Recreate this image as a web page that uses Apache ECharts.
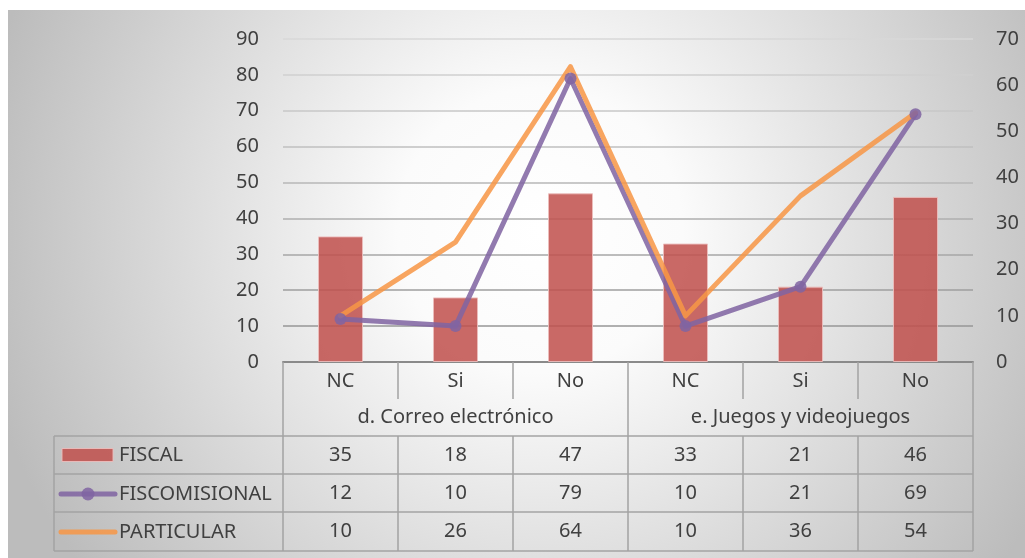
<!DOCTYPE html>
<html>
<head>
<meta charset="utf-8">
<title>Correo electrónico y videojuegos por tipo de institución</title>
<script src="https://cdn.jsdelivr.net/npm/echarts@6/dist/echarts.min.js"></script>
<style>
  html, body { margin: 0; padding: 0; background: #ffffff; }
  #chart { width: 1025px; height: 558px; }
</style>
</head>
<body>
<div id="chart"></div>
<script>
// Answer categories, grouped by question
const categories = ['NC', 'Si', 'No', 'NC', 'Si', 'No'];
const groups = ['d. Correo electrónico', 'e. Juegos y videojuegos'];
const seriesNames = ['FISCAL', 'FISCOMISIONAL', 'PARTICULAR'];

// Values per institution type
const fiscal = [35, 18, 47, 33, 21, 46];
const fiscomisional = [12, 10, 79, 10, 21, 69];
const particular = [10, 26, 64, 10, 36, 54];

// Axis ranges
const leftAxis = { min: 0, max: 90, interval: 10 };
const rightAxis = { min: 0, max: 70, interval: 10 };

const FONT = '"Noto Sans", "Open Sans", sans-serif';
const FONT_SIZE = 20;
const TEXT = '#404040';
const TABLE_LINE = '#a3a3a3';

const RED = 'rgba(192, 80, 77, 0.86)';
const RED_EDGE = 'rgba(236, 190, 188, 0.9)';
const PURPLE = 'rgba(128, 100, 162, 0.86)';
const ORANGE = 'rgba(247, 150, 70, 0.86)';

// Plot geometry
const PLOT = { left: 283, right: 973, top: 39, bottom: 362 };

const chart = echarts.init(document.getElementById('chart'), null, { renderer: 'canvas' });

// A category axis used as one row of the data table under the plot
function tableRow(data, offset, tickLen, margin) {
  return {
    type: 'category',
    position: 'bottom',
    gridIndex: 0,
    offset: offset,
    data: data,
    boundaryGap: true,
    axisLine: { show: false },
    axisTick: { show: true, interval: 0, length: tickLen, lineStyle: { color: TABLE_LINE, width: 1.5 } },
    axisLabel: {
      show: true, margin: margin, interval: 0, verticalAlign: 'middle',
      color: TEXT, fontFamily: FONT, fontSize: FONT_SIZE, lineHeight: 22
    },
    splitLine: { show: false }
  };
}

function tableLine(x1, y1, x2, y2) {
  return { type: 'line', silent: true, shape: { x1: x1, y1: y1, x2: x2, y2: y2 }, style: { stroke: TABLE_LINE, lineWidth: 1.5 } };
}

// Vertical borders of the question row: plot edges and the split between questions
const groupBorders = [];
for (let k = 0; k <= groups.length; k++) {
  const x = PLOT.left + k * (PLOT.right - PLOT.left) / groups.length;
  groupBorders.push(tableLine(x, 399, x, 436));
}

// Legend keys in the first column of the data table
const legendRows = [455, 494, 532];
const legendGraphics = [
  { type: 'rect', silent: true, shape: { x: 62, y: legendRows[0] - 6.5, width: 51, height: 13 },
    style: { fill: RED, stroke: RED_EDGE, lineWidth: 1 } },
  { type: 'line', silent: true, shape: { x1: 61, y1: legendRows[1], x2: 115, y2: legendRows[1] },
    style: { stroke: PURPLE, lineWidth: 5, lineCap: 'round' } },
  { type: 'circle', silent: true, shape: { cx: 88, cy: legendRows[1], r: 6.5 },
    style: { fill: PURPLE } },
  { type: 'line', silent: true, shape: { x1: 61, y1: legendRows[2], x2: 115, y2: legendRows[2] },
    style: { stroke: ORANGE, lineWidth: 5, lineCap: 'round' } }
].concat(seriesNames.map(function (name, i) {
  return {
    type: 'text', silent: true, x: 119, y: legendRows[i],
    style: { text: name, fill: TEXT, font: FONT_SIZE + 'px ' + FONT, verticalAlign: 'middle', align: 'left' }
  };
}));

const gridLineColor = {
  type: 'linear', global: true, x: 0, y: PLOT.top, x2: 0, y2: PLOT.bottom,
  colorStops: [{ offset: 0, color: '#d8d8d8' }, { offset: 1, color: '#8e8e8e' }]
};

const option = {
  animation: false,
  textStyle: { fontFamily: FONT },
  grid: { left: PLOT.left, right: 1025 - PLOT.right, top: PLOT.top, bottom: 558 - PLOT.bottom, containLabel: false },
  graphic: [
    {
      type: 'rect', z: -10, silent: true,
      shape: { x: 8, y: 10, width: 1017, height: 548 },
      style: {
        fill: {
          type: 'radial', global: true, x: 540, y: 230, r: 570,
          colorStops: [
            { offset: 0, color: '#ffffff' },
            { offset: 0.25, color: '#fbfbfb' },
            { offset: 1, color: '#bcbcbc' }
          ]
        }
      }
    },
    // Borders of the value rows and the legend column
    tableLine(54, 436, PLOT.right, 436),
    tableLine(54, 474, PLOT.right, 474),
    tableLine(54, 512, PLOT.right, 512),
    tableLine(54, 551, PLOT.right, 551),
    tableLine(54, 436, 54, 551)
  ].concat(groupBorders, legendGraphics),
  xAxis: [
    // Answer labels row, also the plot's category axis
    {
      type: 'category',
      position: 'bottom',
      data: categories,
      boundaryGap: true,
      axisLine: { show: true, lineStyle: { color: '#8a8a8a', width: 2 } },
      axisTick: { show: true, interval: 0, length: 37, lineStyle: { color: TABLE_LINE, width: 1.5 } },
      axisLabel: {
        margin: 19, interval: 0, verticalAlign: 'middle',
        color: TEXT, fontFamily: FONT, fontSize: FONT_SIZE, lineHeight: 22
      },
      splitLine: { show: false }
    },
    tableRow(groups, 37, 37, 18),
    tableRow(fiscal.map(String), 74, 38, 19),
    tableRow(fiscomisional.map(String), 112, 38, 19),
    tableRow(particular.map(String), 150, 39, 19)
  ],
  yAxis: [
    {
      type: 'value', position: 'left',
      min: leftAxis.min, max: leftAxis.max, interval: leftAxis.interval,
      axisLine: { show: false }, axisTick: { show: false },
      axisLabel: { margin: 24, color: TEXT, fontFamily: FONT, fontSize: FONT_SIZE },
      splitLine: { show: true, lineStyle: { color: gridLineColor, width: 1.5 } }
    },
    {
      type: 'value', position: 'right',
      min: rightAxis.min, max: rightAxis.max, interval: rightAxis.interval,
      axisLine: { show: false }, axisTick: { show: false },
      axisLabel: { margin: 23, color: TEXT, fontFamily: FONT, fontSize: FONT_SIZE },
      splitLine: { show: false }
    }
  ],
  series: [
    {
      name: seriesNames[0],
      type: 'bar',
      xAxisIndex: 0, yAxisIndex: 0,
      data: fiscal,
      barWidth: 45,
      itemStyle: { color: RED, borderColor: RED_EDGE, borderWidth: 1 }
    },
    {
      name: seriesNames[1],
      type: 'line',
      xAxisIndex: 0, yAxisIndex: 0,
      data: fiscomisional,
      symbol: 'circle',
      symbolSize: 12,
      showSymbol: true,
      lineStyle: { color: PURPLE, width: 5, cap: 'round', join: 'round' },
      itemStyle: { color: PURPLE }
    },
    {
      name: seriesNames[2],
      type: 'line',
      xAxisIndex: 0, yAxisIndex: 1,
      data: particular,
      symbol: 'none',
      showSymbol: false,
      lineStyle: { color: ORANGE, width: 5, cap: 'round', join: 'round' },
      itemStyle: { color: ORANGE }
    }
  ]
};

chart.setOption(option);
</script>
</body>
</html>
